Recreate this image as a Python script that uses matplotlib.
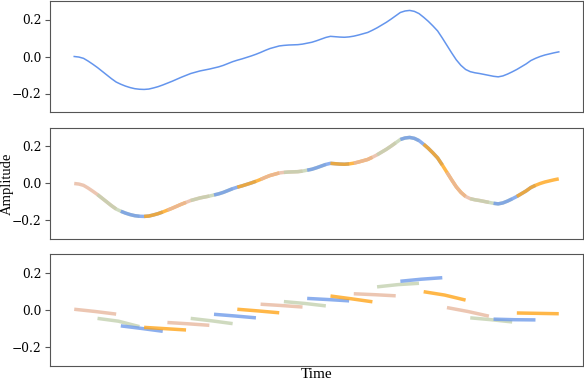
import numpy as np
import matplotlib.pyplot as plt

# base signal (one value per time step)
signal = [0.000, -0.003, -0.010, -0.025, -0.042, -0.060, -0.080, -0.100, -0.120, -0.138,
          -0.150, -0.160, -0.168, -0.174, -0.177, -0.178, -0.176, -0.170, -0.163, -0.154,
          -0.144, -0.134, -0.123, -0.112, -0.102, -0.092, -0.085, -0.078, -0.073, -0.068,
          -0.062, -0.056, -0.048, -0.038, -0.028, -0.020, -0.013, -0.005, 0.003, 0.012,
          0.022, 0.033, 0.043, 0.050, 0.057, 0.060, 0.062, 0.063, 0.064, 0.067,
          0.072, 0.077, 0.085, 0.094, 0.103, 0.109, 0.107, 0.105, 0.104, 0.106,
          0.110, 0.116, 0.123, 0.130, 0.142, 0.155, 0.170, 0.185, 0.202, 0.220,
          0.238, 0.246, 0.249, 0.244, 0.232, 0.212, 0.190, 0.165, 0.138, 0.100,
          0.060, 0.020, -0.018, -0.048, -0.070, -0.082, -0.088, -0.092, -0.097, -0.102,
          -0.107, -0.110, -0.105, -0.095, -0.083, -0.070, -0.055, -0.040, -0.022, -0.010,
          0.000, 0.008, 0.014, 0.020, 0.025]

patch_len = 10
stride = 5

# third panel: start / middle / end value of each patch
patch_start = [0.004, -0.045, -0.085, -0.093, -0.067, -0.045, -0.023, 0.004, 0.031, 0.045,
               0.062, 0.075, 0.087, 0.124, 0.154, 0.098, 0.013, -0.042, -0.049, -0.016]
patch_mid = [-0.008, -0.060, -0.099, -0.100, -0.074, -0.058, -0.032, -0.005, 0.024, 0.035,
             0.056, 0.060, 0.082, 0.136, 0.165, 0.080, -0.008, -0.052, -0.052, -0.018]
patch_end = [-0.022, -0.089, -0.114, -0.107, -0.082, -0.073, -0.042, -0.015, 0.016, 0.022,
             0.049, 0.044, 0.076, 0.143, 0.173, 0.053, -0.033, -0.064, -0.053, -0.020]

colors = ['#e8b89f', '#c3d1b0', '#6f9bea', '#ffa51a']

plt.rcParams['font.family'] = 'DejaVu Serif'
plt.rcParams['axes.edgecolor'] = '#555555'
plt.rcParams['xtick.color'] = '#555555'
plt.rcParams['ytick.color'] = '#555555'
plt.rcParams['ytick.labelcolor'] = 'black'

fig = plt.figure(figsize=(5.84, 3.80), dpi=100)
W, H = 584, 380
rects = [(1, 112), (128, 239), (254, 366)]
axes = [fig.add_axes([50 / W, 1 - b / H, 533 / W, (b - t) / H]) for t, b in rects]

t = np.arange(len(signal))
n_patches = len(patch_start)

# panel 1: raw signal
axes[0].plot(t, signal, color='cornflowerblue', lw=1.1)

# panel 2: overlapping patches on the signal
for k in range(n_patches):
    idx = t[k * stride:k * stride + patch_len]
    axes[1].plot(idx, np.array(signal)[idx], color=colors[k % 4], lw=2.5,
                 alpha=0.8, solid_capstyle='butt')

# panel 3: reconstructed patches
for k in range(n_patches):
    x0 = k * stride
    xs = [x0, x0 + (patch_len - 1) / 2, x0 + patch_len - 1]
    ys = [patch_start[k], patch_mid[k], patch_end[k]]
    axes[2].plot(xs, ys, color=colors[k % 4], lw=2.5, alpha=0.8, solid_capstyle='butt')

for ax in axes:
    ax.set_ylim(-0.3, 0.3)
    ax.set_yticks([-0.2, 0.0, 0.2])
    ax.set_xticks([])
    ax.tick_params(axis='y', labelsize=8.8, length=3.5, pad=2.5)

axes[1].set_ylabel('Amplitude', family='Liberation Serif', fontsize=10.5)
axes[1].yaxis.set_label_coords(-0.067, 0.5)
axes[2].set_xlabel('Time', family='Liberation Serif', fontsize=11)
axes[2].xaxis.set_label_coords(0.5, -0.02)

fig.savefig('out.png', dpi=100)
